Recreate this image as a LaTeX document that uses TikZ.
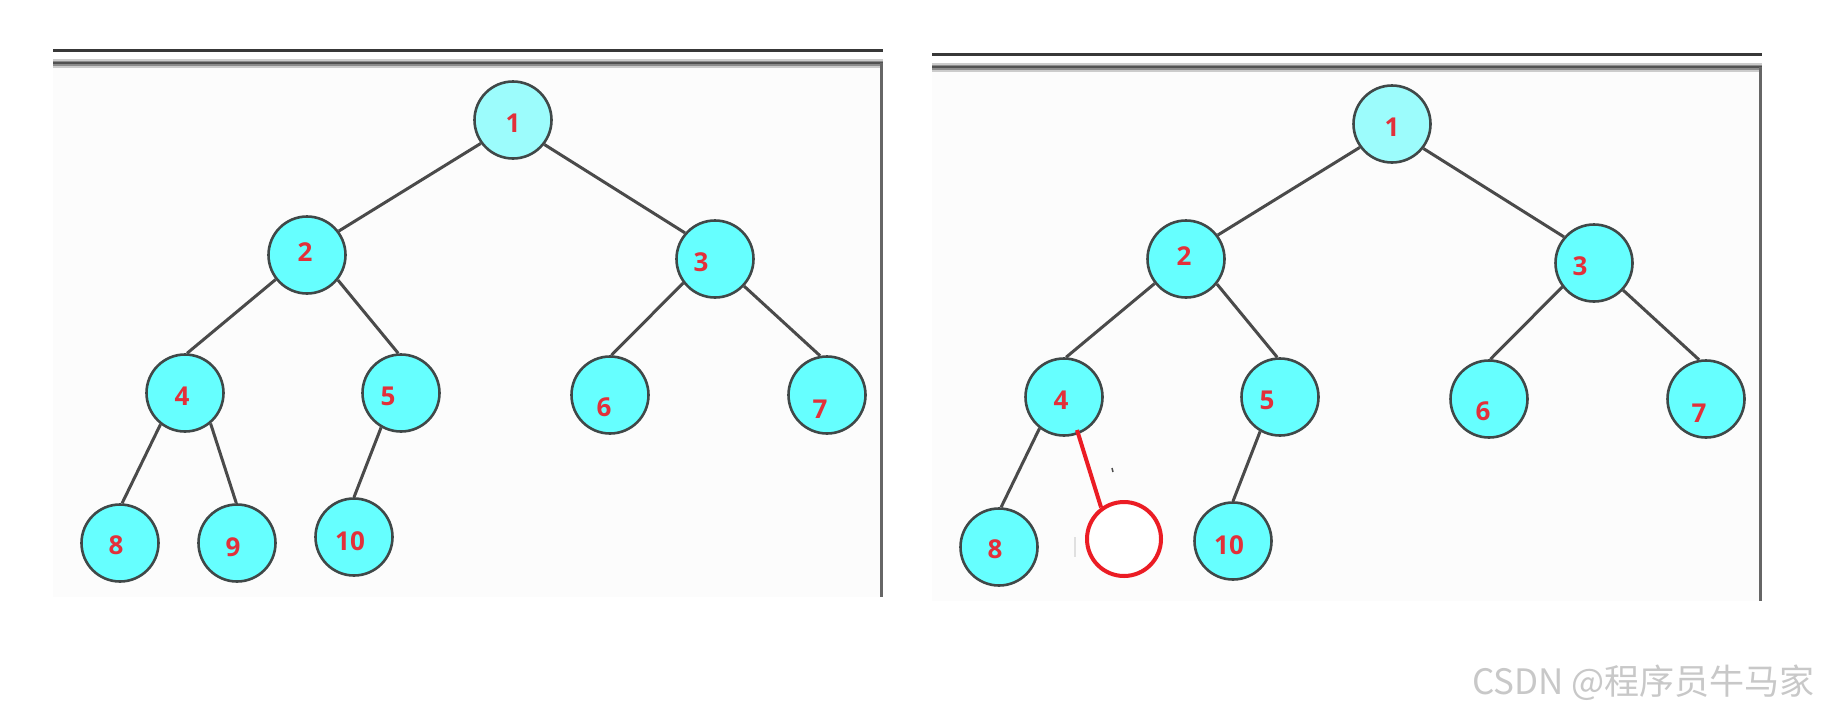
\documentclass[tikz,border=0pt]{standalone}
\usepackage{fontspec}
\newfontfamily\lblfont{Open Sans}
\newfontfamily\cjk{Noto Sans CJK SC}
\definecolor{nodecyan}{HTML}{66FFFF}
\definecolor{rootcyan}{HTML}{9CFCFC}
\definecolor{nodeborder}{HTML}{404848}
\definecolor{edgegray}{HTML}{4A4A4A}
\definecolor{lblred}{HTML}{E2303A}
\definecolor{markred}{HTML}{EB1C24}
\definecolor{panelbg}{HTML}{FCFCFC}
\definecolor{wmgray}{HTML}{C8C8C8}
\tikzset{
  tnode/.style={circle, draw=nodeborder, line width=2.6pt, fill=nodecyan, minimum size=77pt, inner sep=0pt},
  rootnode/.style={tnode, fill=rootcyan},
  lbl/.style={text=lblred, font=\lblfont\bfseries\fontsize{26}{26}\selectfont, inner sep=0pt},
  edge/.style={draw=edgegray, line width=3pt},
  redline/.style={draw=markred, line width=4pt},
  redcircle/.style={circle, draw=markred, line width=4pt, minimum size=74pt, inner sep=0pt, fill=white},
  topline/.style={draw=black!78, line width=3pt},
  bandlight/.style={draw=black!20, line width=9pt},
  bandmid/.style={draw=black!45, line width=5pt},
  banddark/.style={draw=black!68, line width=2.5pt},
  border/.style={draw=black!60, line width=3pt},
}
\newcommand{\panelframe}{%
  \fill[panelbg] (0,63) rectangle (829,597);
  \coordinate (tl1) at (0,50.5);  \coordinate (tr1) at (830,50.5);
  \coordinate (tl2) at (0,63);    \coordinate (tr2) at (830,63);
  \coordinate (bt) at (828.5,63); \coordinate (bb) at (828.5,597);
  \draw[topline] (tl1) -- (tr1);
  \draw[bandlight] (tl2) -- (tr2);
  \draw[bandmid] (tl2) -- (tr2);
  \draw[banddark] (tl2) -- (tr2);
  \draw[border] (bt) -- (bb);
}
\newcommand{\treebase}{%
  \node[rootnode] (n1) at (460,120) {};
  \node[tnode] (n2) at (254,255) {};
  \node[tnode] (n3) at (662,259) {};
  \node[tnode] (n4) at (132,393) {};
  \node[tnode] (n5) at (348,393) {};
  \node[tnode] (n6) at (557,395) {};
  \node[tnode] (n7) at (774,395) {};
  \node[tnode] (n8) at (67,543) {};
  \node[tnode] (n10) at (301,537) {};
  \draw[edge] (n1.216) -- (n2.37);
  \draw[edge] (n1.322) -- (n3.139);
  \draw[edge] (n2.218) -- (n4.87);
  \draw[edge] (n2.321) -- (n5.94);
  \draw[edge] (n3.217) -- (n6.88);
  \draw[edge] (n3.317) -- (n7.100);
  \draw[edge] (n4.232) -- (n8.87);
  \draw[edge] (n5.240) -- (n10.90);
  \node[lbl] (t1) at (460,123) {1};
  \node[lbl] (t2) at (252,252) {2};
  \node[lbl] (t3) at (648,262) {3};
  \node[lbl] (t4) at (129,396) {4};
  \node[lbl] (t5) at (335,396) {5};
  \node[lbl] (t6) at (551,407) {6};
  \node[lbl] (t7) at (767,409) {7};
  \node[lbl] (t8) at (63,545) {8};
  \node[lbl] (t10) at (297,541) {10};
}
\begin{document}
\begin{tikzpicture}[x=1pt,y=-1pt]
  \useasboundingbox[fill=white] (0,0) rectangle (1822,718);
  % left panel
  \begin{scope}[shift={(53,0)}, name prefix=L-]
    \panelframe
    \treebase
    \node[tnode] (n9) at (184,543) {};
    \draw[edge] (n4.310) -- (n9.91);
    \node[lbl] (t9) at (180,547) {9};
  \end{scope}
  % right panel
  \begin{scope}[shift={(932,4)}, name prefix=R-]
    \panelframe
    \treebase
    \coordinate (gapmark1) at (180,464);
    \coordinate (gapmark2) at (181,468);
    \draw[black!70, line width=1.5pt] (gapmark1) -- (gapmark2);
    \coordinate (ghost1) at (143,533);
    \coordinate (ghost2) at (143,553);
    \draw[black!12, line width=1.5pt] (ghost1) -- (ghost2);
    \node[redcircle] (red) at (192,535) {};
    \coordinate (rs) at (145,426);
    \draw[redline] (rs) -- (red.126);
  \end{scope}
  % watermark
  \node[anchor=base east, text=wmgray, font=\cjk\fontsize{35}{35}\selectfont, inner sep=0pt] (wm) at (1815,694) {CSDN @程序员牛马家};
\end{tikzpicture}
\end{document}
